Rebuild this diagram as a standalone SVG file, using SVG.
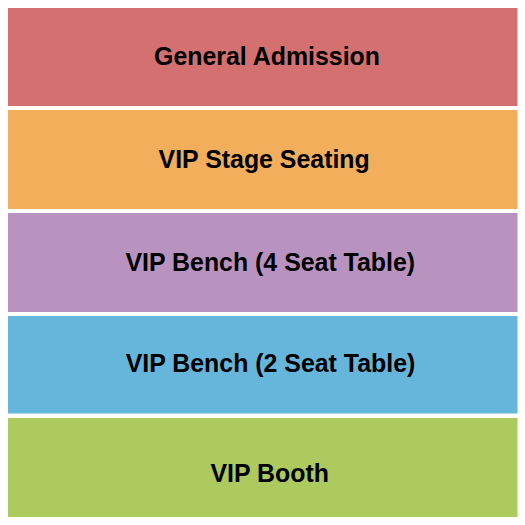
<svg xmlns="http://www.w3.org/2000/svg" width="525" height="525" viewBox="0 0 525 525">
<style>
.lbl{font-family:"Liberation Sans",Arial,sans-serif;font-weight:bold;font-size:24.9px;fill:#000;text-anchor:middle}
</style>
<rect x="0" y="0" width="525" height="525" fill="#fff"/>
<g id="general-admission"><rect x="8" y="8" width="509.5" height="98" fill="#D47170"/><text class="lbl" x="267" y="65">General Admission</text></g>
<g id="vip-stage-seating"><rect x="8" y="110" width="509.5" height="99" fill="#F2AE5B"/><text class="lbl" x="264.2" y="168.3">VIP Stage Seating</text></g>
<g id="vip-bench-4"><rect x="8" y="213" width="509.5" height="99" fill="#B993C0"/><text class="lbl" x="270.3" y="271">VIP Bench (4 Seat Table)</text></g>
<g id="vip-bench-2"><rect x="8" y="316" width="509.5" height="97.5" fill="#66B5DB"/><text class="lbl" x="270.5" y="372.3">VIP Bench (2 Seat Table)</text></g>
<g id="vip-booth"><rect x="8" y="418" width="509.5" height="99" fill="#ACCA5E"/><text class="lbl" x="269.7" y="482.3">VIP Booth</text></g>
<g id="connectors"></g>
</svg>
